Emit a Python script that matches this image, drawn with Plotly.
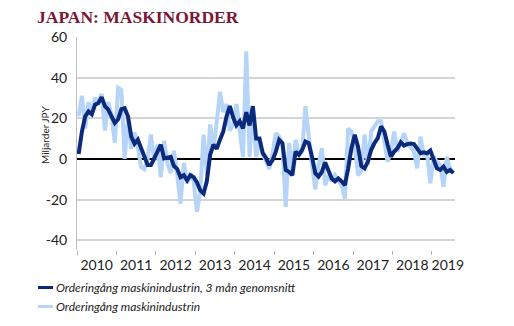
import plotly.graph_objects as go

# month index 0 = Jan 2010 ... 114 = Jul 2019
avg3 = [2.5, 13.5, 21, 23.4, 22, 26.7, 27.5, 30.4, 26, 24.3, 21, 17.7,
        19.5, 24.5, 25, 21, 11, 7.5, 9.5, 5, 0.5, -3, -3, 0.5,
        4.5, 7, 0.3, 0.5, 1, -3.5, -5, -9, -8, -10.5, -8, -9,
        -11.5, -15.5, -17, -11, 2, 7, 5, 9.5, 13.5, 21, 26, 20.5,
        16.5, 18.5, 15, 23, 16.5, 26, 10, 10, 3, 0.5, -3, -0.5,
        3.6, 9.4, 7.8, -5.4, -6.3, -8, 3.6, 2, 4.5, 8.6, 7.8, 1,
        -7, -8.7, -6.3, -1.7, -6.3, -9.6, -11, -9.6, -11, -12.9, -4.6, 5.3,
        11.9, 6, -3.5, -4.6, -1.3, 4.5, 7.8, 10.2, 16, 13.5, 7, 1.2,
        3.6, 5.3, 8.2, 6.6, 7.3, 7.6, 7.3, 5.3, 2.8, 3.3, 2.8, 4.1,
        -0.5, -4.6, -5.4, -3.8, -6.3, -5.4, -7]

monthly = [21, 31, 15, 28, 22, 30, 28, 32, 14, 28, 22, 8,
           35, 34, 0, 20, 5, 13, 6, -4, -5, 0, 12, -1,
           7, -9, 9, -2, -7, 4, -8, -22, -2, -12, -7, -11,
           -26, -16, 12, -8, 17, 5, 18, 33, 23, 27, 14, 17,
           27, 12, 1, 53, 1, 25, 1, 10, 2, -1, -5, 3,
           12.7, 11, 7, -23.6, 7.8, -6, 9.4, 2, 3.6, 26, 10, -3,
           -15, -3, 5.3, -13, -8, -11, -8, -10.5, -13, -19.5, 15, 13.5,
           7, -8, -6, 12, -3, 13.5, 16, 18.5, 18.5, 7, -1.3, 3.6,
           13.5, 3.6, 8.6, 12.7, 7.8, 5.3, 3.6, -4.6, 11, 2, 2.8, -12,
           1, -1.3, -3, -13.7, 1, -4.6, -7]

years = ["2010", "2011", "2012", "2013", "2014", "2015", "2016", "2017", "2018", "2019"]
y_ticks = [-40, -20, 0, 20, 40, 60]
y_ticktext = ["-40", "-20", "0", "20", "40", "60"]
series_names = ["Orderingång maskinindustrin, 3 mån genomsnitt", "Orderingång maskinindustrin"]
series_colors = ["#0b2a7c", "#b6d4f7"]

months = list(range(len(avg3)))
year_bounds = [12 * k - 0.5 for k in range(len(years))]
year_label_pos = [12 * k + 5.5 for k in range(len(years) - 1)] + [112.3]

W, H = 514, 326
L, R, T, B = 77, 59, 37, 76

fig = go.Figure()
fig.add_trace(go.Scatter(x=months, y=monthly, mode="lines",
                         line=dict(color=series_colors[1], width=4),
                         name=series_names[1], showlegend=False))
fig.add_trace(go.Scatter(x=months, y=avg3, mode="lines",
                         line=dict(color=series_colors[0], width=4),
                         name=series_names[0], showlegend=False))
# invisible trace for the label axis
fig.add_trace(go.Scatter(x=[year_label_pos[0]], y=[0], xaxis="x2", mode="markers",
                         marker=dict(opacity=0), showlegend=False, hoverinfo="skip"))

font_sans = "Lato, 'Open Sans', sans-serif"
fig.update_layout(
    width=W, height=H,
    margin=dict(l=L, r=R, t=T, b=B, autoexpand=False),
    paper_bgcolor="white", plot_bgcolor="white",
    title=dict(text="<b>JAPAN: MASKINORDER</b>", x=37 / W, xanchor="left",
               y=1 - 17 / H, yanchor="middle",
               font=dict(family="'Liberation Serif', 'DejaVu Serif', serif", size=17.5, color="#7a1636")),
    xaxis=dict(range=[-0.5, 114.5], showgrid=False, zeroline=False, showline=False,
               tickmode="array", tickvals=year_bounds, ticks="outside", ticklen=4,
               tickcolor="#b0b0b0", tickwidth=1, showticklabels=False, fixedrange=True),
    xaxis2=dict(range=[-0.5, 114.5], overlaying="x", side="bottom", showgrid=False,
                zeroline=False, showline=False, tickmode="array", tickvals=year_label_pos,
                ticktext=years, ticks="", ticklabelstandoff=5,
                tickfont=dict(family=font_sans, size=14, color="#222222")),
    yaxis=dict(range=[-44.8, 60], tickmode="array", tickvals=y_ticks, ticktext=y_ticktext,
               showgrid=True, gridcolor="#d4d4d4", gridwidth=1.5,
               zeroline=True, zerolinecolor="#000000", zerolinewidth=1.5,
               showline=True, linecolor="#bdbdbd", linewidth=1,
               ticks="", ticklabelstandoff=6,
               tickfont=dict(family=font_sans, size=14, color="#222222")),
    showlegend=False,
)
fig.add_annotation(text="Miljarder JPY", xref="paper", yref="paper",
                   x=-(L - 45) / (W - L - R), y=(H - B - 135) / (H - T - B), textangle=-90,
                   showarrow=False, xanchor="center", yanchor="middle",
                   font=dict(family=font_sans, size=10, color="#222222"))

# custom legend (sample line + italic label), in pixel positions converted to paper coords
pw, ph = W - L - R, H - T - B
legend_y_px = [287.5, 306.5]
for name, color, ypx in zip(series_names, series_colors, legend_y_px):
    yp = (H - B - ypx) / ph
    fig.add_shape(type="line", xref="paper", yref="paper",
                  x0=(38 - L) / pw, x1=(53 - L) / pw, y0=yp, y1=yp,
                  line=dict(color=color, width=3))
    fig.add_annotation(text=name, xref="paper", yref="paper", x=(54 - L) / pw, y=yp,
                       xanchor="left", yanchor="middle", showarrow=False,
                       font=dict(family=font_sans, size=12, color="#222222", style="italic"))

fig.write_html("out.html")
